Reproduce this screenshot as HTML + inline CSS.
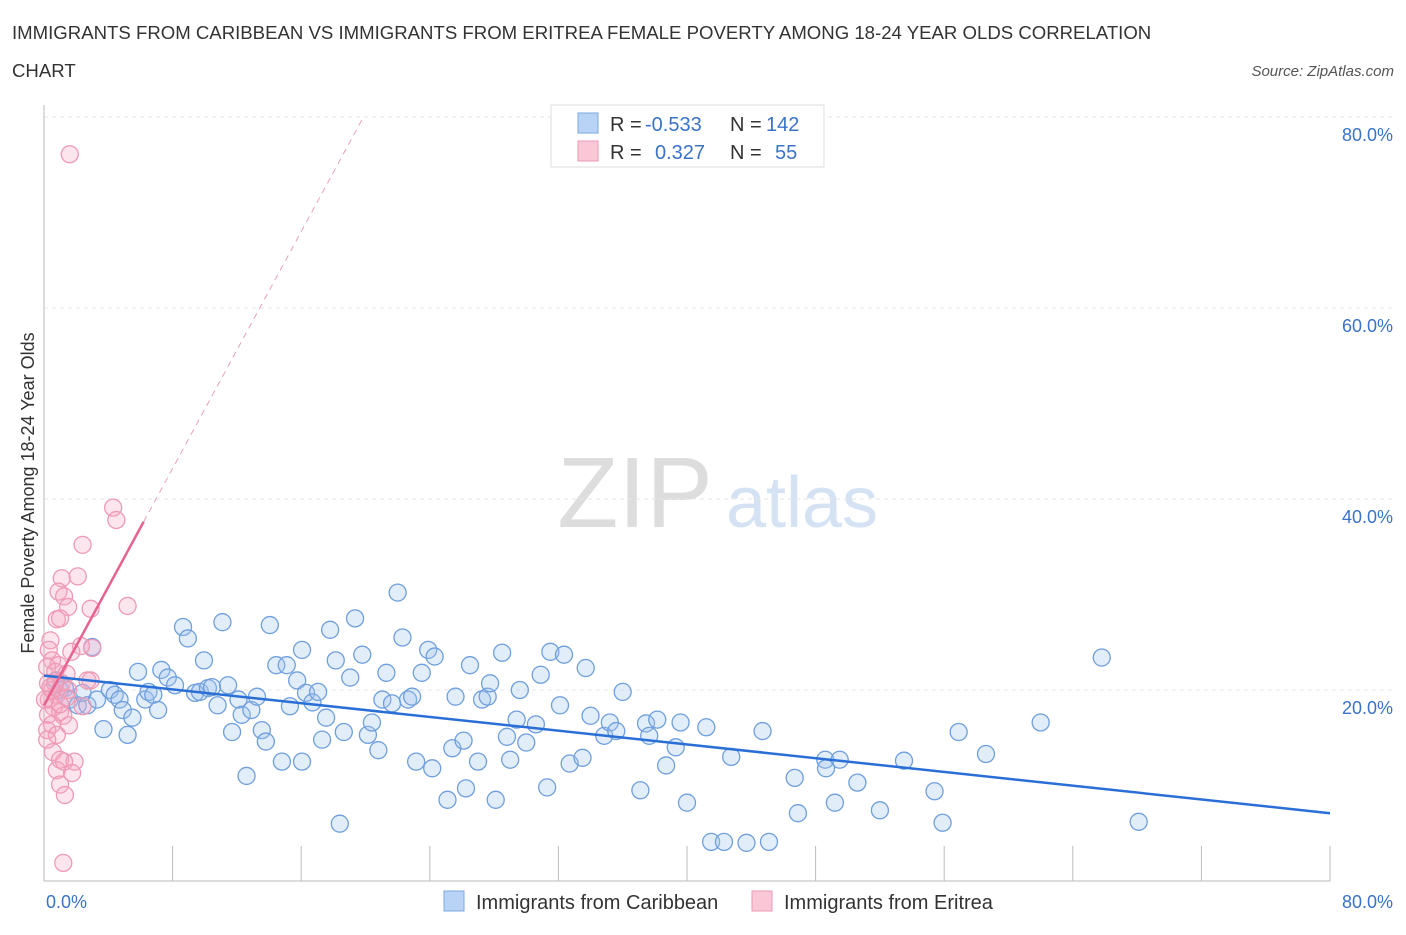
<!DOCTYPE html>
<html><head><meta charset="utf-8"><style>
body{margin:0;background:#fff;font-family:"Liberation Sans",sans-serif;}
svg text{font-family:"Liberation Sans",sans-serif;}
</style></head><body>
<svg id="chart" width="1406" height="930" xmlns="http://www.w3.org/2000/svg">
<text x="12" y="39" font-size="18.6" fill="#333">IMMIGRANTS FROM CARIBBEAN VS IMMIGRANTS FROM ERITREA FEMALE POVERTY AMONG 18-24 YEAR OLDS CORRELATION</text>
<text x="12" y="77" font-size="18.6" fill="#333">CHART</text>
<text x="1394" y="76" font-size="15" fill="#555" text-anchor="end" font-style="italic">Source: ZipAtlas.com</text>
<g>
<text x="635" y="527" font-size="100" fill="#ddd" text-anchor="middle" font-family="Liberation Serif">ZIP</text>
<text x="802" y="527" font-size="72" fill="#d4e2f4" text-anchor="middle">atlas</text>
</g>
<g id="grid"></g>
<g id="axes"></g>
<g id="marks"></g>
<text transform="translate(34,493) rotate(-90)" font-size="18" fill="#333" text-anchor="middle">Female Poverty Among 18-24 Year Olds</text>
<g>
<rect x="551" y="105" width="273" height="62" fill="#fff" stroke="#ddd"/>
<rect x="578" y="113" width="20" height="20" fill="#b8d3f5" stroke="#7aa8e0"/>
<text x="610" y="131" font-size="20" fill="#333">R = </text><text x="645" y="131" font-size="20" fill="#3b73c8">-0.533</text>
<text x="730" y="131" font-size="20" fill="#333">N = </text><text x="766" y="131" font-size="20" fill="#3b73c8">142</text>
<rect x="578" y="141" width="20" height="20" fill="#f9c7d6" stroke="#ec9ab5"/>
<text x="610" y="159" font-size="20" fill="#333">R = </text><text x="655" y="159" font-size="20" fill="#3b73c8">0.327</text>
<text x="730" y="159" font-size="20" fill="#333">N = </text><text x="775" y="159" font-size="20" fill="#3b73c8">55</text>
</g>
<g>
<rect x="444" y="891" width="20" height="20" fill="#b8d3f5" stroke="#7aa8e0"/>
<text x="476" y="909" font-size="20" fill="#333">Immigrants from Caribbean</text>
<rect x="752" y="891" width="20" height="20" fill="#f9c7d6" stroke="#ec9ab5"/>
<text x="784" y="909" font-size="20" fill="#333">Immigrants from Eritrea</text>
</g>
</svg>
<script>
const yTicks=[20,40,60,80];
const yTickLabels=["20.0%","40.0%","60.0%","80.0%"];
const xTickLabels=["0.0%","80.0%"];
const blueX=[0.75,1.0,1.3,1.6,2.1,2.4,2.7,3.0,3.3,3.7,4.1,4.4,4.7,4.9,5.2,5.5,5.85,6.3,6.5,6.8,7.1,7.3,7.7,8.15,8.65,8.95,9.4,9.7,9.95,10.2,10.45,10.8,11.1,11.45,11.7,12.1,12.3,12.6,12.9,13.25,13.55,13.8,14.05,14.45,14.8,15.1,15.3,15.75,16.05,16.3,16.7,17.05,17.3,17.55,17.8,18.15,18.4,18.65,19.05,19.35,19.8,20.15,20.4,20.8,21.05,21.3,21.65,22.0,22.3,22.65,22.9,23.15,23.5,23.9,24.15,24.3,25.1,25.4,25.6,26.1,26.25,26.5,27.0,27.25,27.6,27.75,28.1,28.5,28.8,29.0,29.4,29.6,30.0,30.6,30.9,31.3,31.5,32.1,32.35,32.7,33.5,33.7,34.0,34.85,35.2,35.6,36.0,37.1,37.45,37.65,38.15,38.7,39.3,40.0,39.6,41.2,41.5,42.3,42.75,43.7,44.7,45.1,46.7,46.9,48.6,48.65,49.2,49.5,50.6,52.0,53.5,55.4,55.9,56.9,58.6,62.0,65.8,68.1,16.05];
const blueY=[21.0,20.0,20.2,19.0,18.4,19.7,18.4,24.5,19.0,15.9,20.0,19.5,19.0,17.9,15.3,17.1,21.9,19.0,19.8,19.5,17.9,22.1,21.3,20.5,26.6,25.4,19.7,19.8,23.1,20.2,20.3,18.4,27.1,20.5,15.6,19.0,17.4,11.0,17.9,19.3,15.8,14.6,26.8,22.6,12.5,22.6,18.3,21.0,24.2,19.7,18.7,19.8,14.8,17.1,26.3,23.1,6.0,15.6,21.3,27.5,23.7,15.3,16.6,13.7,19.0,21.8,18.6,30.2,25.5,19.0,19.3,12.5,21.8,24.2,11.8,23.5,8.5,13.9,19.3,14.7,9.7,22.6,12.5,19.0,19.3,20.7,8.5,23.9,15.1,12.7,16.9,20.0,14.5,16.4,21.6,9.8,24.0,18.4,23.7,12.3,12.9,22.3,17.3,15.2,16.6,15.7,19.8,9.5,16.5,15.2,16.9,12.1,14.0,8.2,16.6,16.1,4.1,4.1,13.0,4.0,15.7,4.1,10.8,7.1,12.7,11.8,8.2,12.7,10.3,7.4,12.6,9.4,6.1,15.6,13.3,16.6,23.4,6.2,12.5];
const pinkX=[1.6,4.3,4.5,2.4,1.1,2.1,0.9,1.25,5.2,1.5,0.8,1.0,2.9,0.4,3.0,2.3,0.3,1.7,0.5,0.9,0.2,0.7,1.4,2.9,0.25,1.1,0.5,0.8,1.5,2.7,0.3,0.6,2.4,0.25,1.0,1.2,1.55,0.5,0.2,0.8,0.55,1.0,1.9,1.25,0.8,1.75,1.0,1.3,1.2,1.0,0.4,0.7,0.06,0.2,1.4];
const pinkY=[76.1,39.1,37.8,35.2,31.7,31.9,30.3,29.8,28.8,28.7,27.4,27.5,28.5,25.2,24.4,24.6,24.2,24.0,23.1,22.6,22.4,21.9,21.7,21.0,20.7,20.7,20.0,19.5,20.0,21.0,19.0,18.2,18.3,17.4,17.7,17.3,16.3,16.4,15.8,15.3,13.5,12.7,12.5,12.5,11.6,11.3,10.1,9.0,1.9,18.5,20.3,20.7,19.0,14.8,19.2];
const blueTrend=[21.5,7.1];
const pinkTrend=[18.4,3.1];
const NS="http://www.w3.org/2000/svg";
const X=v=>44+v*16.075, Y=v=>881-v*9.55;
function mk(parent,tag,attrs){const e=document.createElementNS(NS,tag);for(const k in attrs)e.setAttribute(k,attrs[k]);parent.appendChild(e);return e;}
const grid=document.getElementById('grid'),axes=document.getElementById('axes'),marks=document.getElementById('marks');
yTicks.forEach((t,i)=>{
 const l=mk(grid,'line',{x1:44,x2:1394,y1:Y(t),y2:Y(t),stroke:'#e6e6e6','stroke-dasharray':'4,4'});
 
 
 const tx=mk(axes,'text',{x:1393,y:Y(t)+24,'font-size':18,fill:'#3b73c8','text-anchor':'end'});
 tx.textContent=yTickLabels[i];
 
 
});
const ax=mk(axes,'line',{x1:44,x2:1330,y1:881,y2:881,stroke:'#bbb'});


const ay=mk(axes,'line',{x1:44,x2:44,y1:105,y2:881,stroke:'#bbb'});


for(let i=1;i<=10;i++){const t=mk(axes,'line',{x1:X(i*8),x2:X(i*8),y1:846,y2:881,stroke:'#bbb'});
 
 }
[[0,'start',46],[80,'end',1393]].forEach((d,i)=>{const t=mk(axes,'text',{x:d[2],y:908,'font-size':18,fill:'#3b73c8','text-anchor':d[1]});t.textContent=xTickLabels[i];
 
 });
blueX.forEach((x,i)=>{const c=mk(marks,'circle',{cx:X(x),cy:Y(blueY[i]),r:8.5,fill:'rgba(160,196,240,0.3)',stroke:'#6f9fdc','stroke-width':1.3});
 
 });
pinkX.forEach((x,i)=>{const c=mk(marks,'circle',{cx:X(x),cy:Y(pinkY[i]),r:8.5,fill:'rgba(245,170,195,0.3)',stroke:'#ee9ab5','stroke-width':1.3});
 
 });
const bl=mk(marks,'line',{x1:X(0),y1:Y(blueTrend[0]),x2:X(80),y2:Y(blueTrend[1]),stroke:'#2a6fd6','stroke-width':2.5});


const pe=(80-pinkTrend[0])/pinkTrend[1];
const pd=mk(marks,'line',{x1:X(6.2),y1:Y(pinkTrend[0]+pinkTrend[1]*6.2),x2:X(pe),y2:Y(80),stroke:'#e8a0b8','stroke-width':1,'stroke-dasharray':'6,5'});


const ps=mk(marks,'line',{x1:X(0),y1:Y(pinkTrend[0]),x2:X(6.2),y2:Y(pinkTrend[0]+pinkTrend[1]*6.2),stroke:'#e8628f','stroke-width':2.5});


</script>
</body></html>
